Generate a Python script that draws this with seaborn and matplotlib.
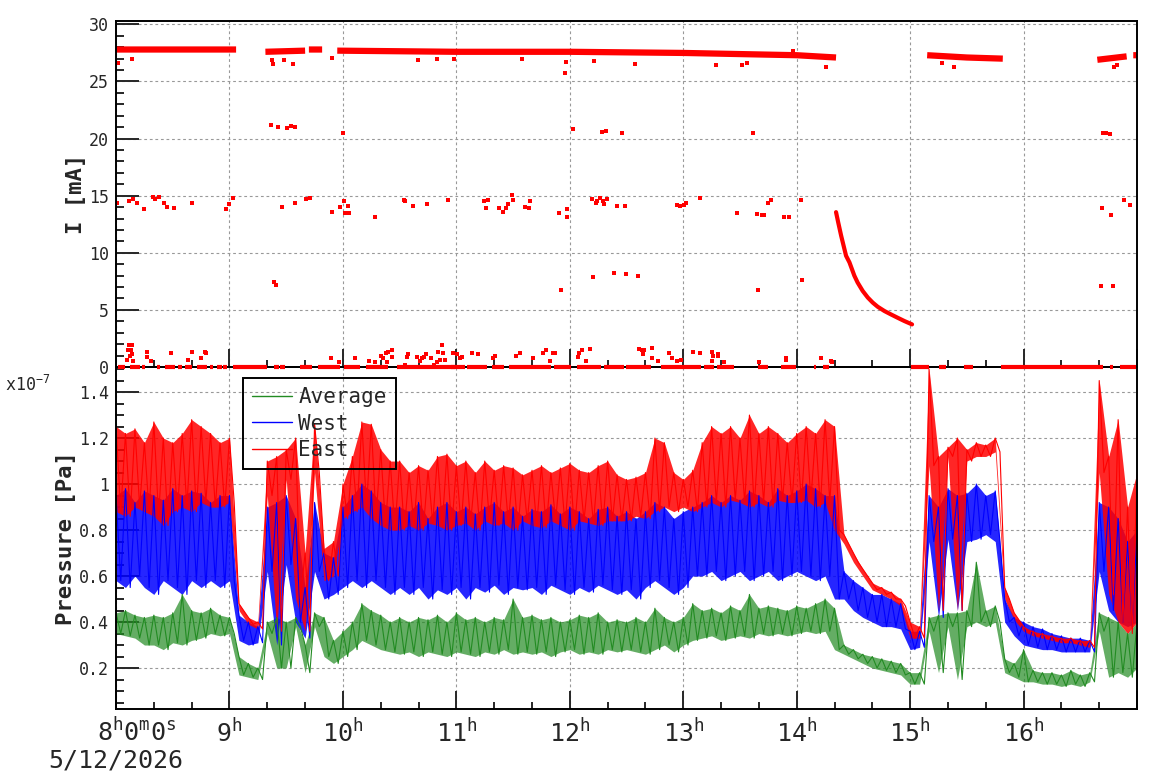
import numpy as np
import pandas as pd
import matplotlib
matplotlib.use("Agg")
import matplotlib.pyplot as plt
import seaborn as sns
from matplotlib.lines import Line2D
from matplotlib.ticker import MultipleLocator, FuncFormatter

# ---------------- pressure (units of 1e-7 Pa), sampled every 5 min after 8:00
# hi = upper envelope at t, lo = lower envelope at t + 2.5 min
t_grid = np.arange(0, 545, 5)

east_hi = [1.25, 1.22, 1.24, 1.18, 1.27, 1.20, 1.18, 1.22, 1.28, 1.25, 1.22, 1.18, 1.20,
           0.48, 0.42, 0.40,
           1.10, 1.12, 1.15, 1.20, 0.70, 1.26, 0.72, 0.75, 1.00, 1.12, 1.27, 1.26, 1.15, 1.10,
           1.10, 1.05, 1.08, 1.06, 1.12, 1.13, 1.08, 1.10, 1.05, 1.10, 1.06, 1.08, 1.07, 1.04,
           1.06, 1.08, 1.05, 1.07, 1.09, 1.06, 1.05, 1.08, 1.10, 1.04, 1.02, 1.03, 1.05,
           1.20, 1.18, 1.05, 1.02, 1.06, 1.18, 1.25, 1.22, 1.25, 1.20, 1.30, 1.22, 1.25, 1.22,
           1.18, 1.22, 1.25, 1.22, 1.28, 1.25,
           0.78, 0.70, 0.63, 0.57, 0.55, 0.53, 0.50, 0.40, 0.38,
           1.50, 1.12, 1.16, 1.20, 1.15, 1.18, 1.17, 1.20,
           0.55, 0.44, 0.38, 0.36, 0.35, 0.34, 0.33, 0.33, 0.32, 0.32,
           1.45, 1.12, 1.28, 0.90, 1.05]
east_lo = [0.88, 0.86, 0.90, 0.88, 0.86, 0.82, 0.88, 0.90, 0.88, 0.92, 0.90, 0.90, 0.92,
           0.45, 0.39, 0.37,
           0.95, 0.36, 1.02, 0.50, 0.36, 1.05, 0.58, 0.60, 0.85, 0.88, 0.90, 0.85, 0.82, 0.80,
           0.80, 0.82, 0.80, 0.83, 0.82, 0.80, 0.82, 0.83, 0.80, 0.84, 0.82, 0.83, 0.80, 0.84,
           0.82, 0.81, 0.84, 0.82, 0.80, 0.84, 0.83, 0.82, 0.84, 0.84, 0.84, 0.86, 0.85,
           0.88, 0.90, 0.88, 0.90, 0.88, 0.90, 0.92, 0.90, 0.93, 0.92, 0.90, 0.92, 0.90, 0.93,
           0.92, 0.92, 0.93, 0.90, 0.92, 0.80,
           0.74, 0.66, 0.60, 0.54, 0.52, 0.50, 0.47, 0.33, 0.33,
           1.08, 0.45, 1.12, 0.45, 1.10, 1.12, 1.12, 1.14,
           0.50, 0.41, 0.36, 0.34, 0.33, 0.32, 0.31, 0.31, 0.30, 0.29,
           1.05, 0.52, 0.40, 0.35, 0.40]

west_hi = [0.95, 0.98, 0.92, 0.97, 0.95, 0.93, 0.98, 0.95, 0.97, 0.96, 0.92, 0.95, 0.95,
           0.43, 0.40, 0.38,
           0.90, 0.92, 0.95, 0.85, 0.55, 0.92, 0.70, 0.68, 0.90, 0.95, 1.00, 0.97, 0.92, 0.90,
           0.90, 0.88, 0.92, 0.85, 0.90, 0.92, 0.88, 0.90, 0.87, 0.90, 0.92, 0.88, 0.90, 0.86,
           0.89, 0.88, 0.91, 0.87, 0.90, 0.88, 0.85, 0.89, 0.90, 0.86, 0.88, 0.85, 0.88,
           0.92, 0.90, 0.85, 0.88, 0.90, 0.92, 0.95, 0.92, 0.95, 0.93, 0.97, 0.95, 0.92, 0.98,
           0.95, 0.97, 1.00, 0.98, 0.95, 0.95,
           0.62, 0.58, 0.55, 0.52, 0.52, 0.50, 0.48, 0.36, 0.36,
           0.95, 0.90, 0.98, 0.95, 0.96, 1.00, 0.95, 0.97,
           0.50, 0.42, 0.40, 0.38, 0.37, 0.35, 0.34, 0.33, 0.33, 0.32,
           0.92, 0.90, 0.85, 0.75, 0.80]
west_lo = [0.58, 0.55, 0.60, 0.55, 0.52, 0.58, 0.55, 0.52, 0.58, 0.55, 0.58, 0.55, 0.58,
           0.32, 0.30, 0.31,
           0.62, 0.30, 0.65, 0.40, 0.33, 0.62, 0.50, 0.52, 0.55, 0.58, 0.55, 0.58, 0.55, 0.52,
           0.55, 0.52, 0.55, 0.50, 0.54, 0.52, 0.55, 0.50, 0.55, 0.53, 0.56, 0.52, 0.55, 0.54,
           0.55, 0.52, 0.56, 0.54, 0.52, 0.55, 0.53, 0.56, 0.54, 0.52, 0.54, 0.50, 0.55,
           0.58, 0.55, 0.52, 0.55, 0.60, 0.60, 0.62, 0.58, 0.60, 0.62, 0.58, 0.60, 0.62, 0.58,
           0.60, 0.62, 0.60, 0.58, 0.60, 0.50,
           0.50, 0.45, 0.42, 0.40, 0.38, 0.38, 0.37, 0.28, 0.29,
           0.75, 0.42, 0.76, 0.45, 0.75, 0.76, 0.78, 0.75,
           0.40, 0.34, 0.30, 0.29, 0.28, 0.28, 0.27, 0.27, 0.27, 0.27,
           0.62, 0.45, 0.40, 0.38, 0.40]

avg_hi = [0.44, 0.45, 0.43, 0.42, 0.43, 0.42, 0.44, 0.52, 0.45, 0.44, 0.46, 0.43, 0.42,
          0.25, 0.22, 0.20,
          0.40, 0.42, 0.40, 0.42, 0.30, 0.44, 0.42, 0.32, 0.36, 0.40, 0.48, 0.45, 0.43, 0.40,
          0.42, 0.40, 0.42, 0.41, 0.43, 0.40, 0.44, 0.41, 0.42, 0.40, 0.42, 0.41, 0.50, 0.42,
          0.43, 0.41, 0.42, 0.40, 0.41, 0.43, 0.42, 0.44, 0.40, 0.41, 0.40, 0.42, 0.40,
          0.46, 0.42, 0.40, 0.42, 0.48, 0.45, 0.46, 0.44, 0.47, 0.45, 0.52, 0.46, 0.47, 0.46,
          0.45, 0.47, 0.46, 0.48, 0.50, 0.46,
          0.30, 0.28, 0.26, 0.25, 0.24, 0.23, 0.22, 0.18, 0.18,
          0.42, 0.43, 0.44, 0.44, 0.45, 0.66, 0.45, 0.47,
          0.24, 0.22, 0.28, 0.19, 0.18, 0.18, 0.17, 0.19, 0.17, 0.18,
          0.44, 0.42, 0.40, 0.35, 0.40]
avg_lo = [0.35, 0.34, 0.33, 0.30, 0.30, 0.28, 0.31, 0.30, 0.32, 0.33, 0.35, 0.34, 0.35,
          0.17, 0.16, 0.15,
          0.35, 0.20, 0.20, 0.38, 0.18, 0.38, 0.25, 0.22, 0.25, 0.28, 0.32, 0.30, 0.28, 0.27,
          0.26, 0.27, 0.25, 0.27, 0.26, 0.25, 0.27, 0.26, 0.25, 0.27, 0.26, 0.28, 0.26, 0.27,
          0.26, 0.27, 0.25, 0.27, 0.28, 0.26, 0.27, 0.26, 0.28, 0.27, 0.28, 0.27, 0.26,
          0.28, 0.30, 0.27, 0.30, 0.32, 0.33, 0.34, 0.32, 0.33, 0.34, 0.33, 0.35, 0.34, 0.35,
          0.34, 0.35, 0.36, 0.35, 0.36, 0.28,
          0.26, 0.24, 0.22, 0.20, 0.19, 0.18, 0.17, 0.13, 0.13,
          0.36, 0.18, 0.38, 0.15, 0.38, 0.40, 0.38, 0.40,
          0.18, 0.16, 0.14, 0.14, 0.13, 0.13, 0.12, 0.13, 0.12, 0.14,
          0.36, 0.16, 0.18, 0.16, 0.20]

# ---------------- beam current I [mA]
# main band (minutes after 8:00), nan = no beam
band_t = [0, 30, 63.5, np.nan, 79, 100, np.nan, 102, 109, np.nan, 117, 180, 240, 300, 360, 380.8,
          np.nan, 429, 450, 469, np.nan, 519, 534.5, np.nan, 538, 541]
band_I = [27.8, 27.8, 27.8, np.nan, 27.6, 27.7, np.nan, 27.8, 27.8, np.nan, 27.7, 27.6, 27.6, 27.5,
          27.3, 27.1, np.nan, 27.3, 27.1, 27.0, np.nan, 26.9, 27.2, np.nan, 27.3, 27.3]

# decaying current after 14:20
decay_t = [380.8, 381.9, 383.5, 386.1, 387.9, 390.5, 392.2, 394.9, 397.6, 400.2, 402.8, 406.4,
           409.9, 413.4, 417.0, 421.0]
decay_I = [13.56, 12.7, 11.5, 9.74, 9.16, 7.99, 7.4, 6.66, 6.08, 5.64, 5.28, 4.9,
           4.6, 4.31, 4.02, 3.73]

# stretches sitting on 0 mA
zero_start = [1.2, 7.4, 13.6, 21.5, 26, 33, 36.5, 42.7, 49.8, 53.3, 56.8, 62, 83.3, 86.8, 97.4,
              107, 120.4, 132, 148.6, 176.9, 185.7, 198.9, 207.8, 231.6, 244, 258.1, 269.5, 288.1,
              311, 318.1, 339.3, 351.6, 369.3, 373.7, 420.5, 435.5, 448.7, 468.2, 525.5, 530.8]
zero_end = [4.8, 12.7, 15.4, 23.3, 31.2, 34.8, 40, 48, 51.5, 56, 58.6, 79.8, 86, 89.5, 103.6,
            118.6, 129.2, 144, 179.5, 184.8, 196.3, 205.1, 229.8, 240.4, 256.3, 268.7, 282.8, 309.3,
            316.3, 326.9, 344.6, 359.6, 370.2, 377.2, 430.2, 439, 453.1, 522, 527.3, 539.6]

# isolated readings
pt_t = [0.7, 7.1, 9.2, 10.9, 15.0, 19.8, 20.8, 22.9, 25.6, 26.7, 30.4, 40.4, 57.9, 59.5, 62.1,
        87.6, 94.4, 100.3, 102.4, 114.0, 118.3, 120.4, 122.5, 121.0, 123.0, 136.8, 152.2, 152.7,
        157.0, 164.3, 175.5,
        81.7, 85.4, 90.2, 92.3, 94.4, 119.9, 83.8, 84.4,
        1.1, 8.6, 82.3, 82.8, 89.1, 93.4, 114.0, 159.6, 169.6,
        6.0, 7.6, 8.6, 6.5, 8.1, 7.1, 8.6, 9.2, 16.6, 16.6, 18.7, 29.3, 37.8, 40.4, 45.2, 47.3,
        47.8, 113.5, 117.7, 126.2, 133.6, 136.8, 140.0, 141.0, 142.6, 143.7, 145.8, 145.8, 143.2,
        152.7, 153.7, 154.3, 159.0, 160.6, 161.7, 162.8, 163.8, 166.5, 168.0, 169.6, 170.2, 171.2,
        172.3, 172.8, 173.9, 178.1,
        179.0, 237.4, 237.9, 214.7, 252.8, 274.5, 317.4, 331.0, 333.8,
        241.7, 256.9, 259.1, 267.6, 337.0,
        194.5, 196.6, 195.6, 202.5, 204.6, 206.2, 207.2, 209.4, 210.0, 216.3, 218.4, 218.9, 234.2,
        238.5, 238.5, 251.7, 253.8, 254.4, 256.0, 257.5, 258.1, 259.6, 264.9, 269.2, 296.7, 298.3,
        300.4, 301.5, 308.9, 328.5, 339.1, 341.8, 342.8, 344.9, 346.5, 353.4, 355.9,
        252.3, 263.4, 269.7, 276.1, 235.3, 339.6,
        178.1, 180.2, 181.8, 182.9, 188.2, 191.3, 199.3, 200.3, 211.5, 213.6, 220.5, 225.8, 227.4,
        229.5, 231.1, 232.1, 244.3, 244.9, 246.4, 248.6, 250.7, 276.6, 278.2, 279.3, 278.7, 283.5,
        283.5, 286.7, 292.5, 294.1, 296.7, 298.8, 305.2, 308.9, 315.3, 315.8, 318.4, 318.4, 315.3,
        321.3, 339.8, 354.5, 354.5,
        375.6, 443.4, 436.8, 527.6, 529.2, 358.2,
        362.4, 521.3, 526.1, 533.0, 536.1, 521.8, 523.4, 525.5, 363.0, 520.8, 527.1,
        373.0, 378.3, 378.8]
pt_I = [14.4, 14.5, 14.7, 14.4, 13.85, 14.9, 14.7, 14.9, 14.4, 14.0, 13.9, 14.4, 13.8, 14.3, 14.8,
        14.0, 14.4, 14.7, 14.8, 13.6, 14.0, 14.5, 14.1, 13.5, 13.5, 13.1, 14.6, 14.5,
        14.1, 14.3, 14.6,
        21.2, 21.0, 20.9, 21.1, 21.0, 20.5, 7.4, 7.2,
        26.6, 27.0, 26.9, 26.5, 26.9, 26.5, 27.1, 26.9, 27.0,
        0.65, 1.0, 1.1, 1.5, 1.5, 1.9, 1.9, 0.5, 1.35, 0.9, 0.55, 1.2, 0.65, 1.35, 0.8, 1.35,
        1.2, 0.75, 0.4, 0.75, 0.5, 0.4, 1.0, 0.8, 1.25, 1.35, 1.45, 0.9, 0.4,
        0.2, 0.9, 1.1, 0.9, 0.55, 0.8, 0.9, 1.1, 0.75, 0.2, 0.4, 1.35, 0.65,
        1.9, 1.2, 0.65, 1.2,
        27.0, 25.7, 26.7, 27.0, 26.8, 26.5, 26.4, 26.4, 26.6,
        20.8, 20.6, 20.7, 20.5, 20.5,
        14.5, 14.6, 13.9, 13.9, 13.6, 13.9, 14.3, 15.1, 14.6, 14.0, 13.9, 14.5, 13.5,
        13.8, 13.1, 14.7, 14.4, 14.5, 14.8, 14.5, 14.3, 14.7, 14.1, 14.1, 14.2, 14.1,
        14.2, 14.4, 14.8, 13.5, 13.4, 13.3, 13.3, 14.4, 14.6, 13.1, 13.1,
        7.9, 8.2, 8.1, 8.0, 6.7, 6.7,
        1.2, 1.1, 0.75, 0.9, 1.2, 1.1, 0.8, 1.0, 1.0, 1.2, 0.75, 1.25, 1.45,
        0.55, 1.2, 1.25, 0.9, 1.25, 1.45, 0.55, 1.6, 1.6, 1.5, 1.45, 1.1, 1.7,
        0.8, 0.55, 1.25, 0.8, 0.55, 0.65, 1.35, 1.25, 1.35, 1.0, 1.1, 1.0, 0.55,
        0.45, 0.45, 0.8, 0.65,
        26.3, 26.3, 26.6, 26.3, 26.4, 27.7,
        14.6, 13.9, 13.3, 14.6, 14.2, 20.5, 20.5, 20.4, 7.6, 7.1, 7.1,
        0.8, 0.55, 0.45]

series = ["Average", "West", "East"]
colors = {"Average": "#228b22", "West": "#0000ff", "East": "#ff0000"}
fill_alpha = {"Average": 0.7, "West": 0.85, "East": 0.85}
envelopes = {"Average": (avg_hi, avg_lo), "West": (west_hi, west_lo), "East": (east_hi, east_lo)}


def hours(minutes):
    return 8 + np.asarray(minutes, dtype=float) / 60.0


# zig-zag between the read envelopes
frames = []
for name in series:
    hi, lo = envelopes[name]
    tt = np.empty(2 * len(t_grid))
    pp = np.empty(2 * len(t_grid))
    tt[0::2] = t_grid
    tt[1::2] = t_grid + 2.5
    pp[0::2] = hi
    pp[1::2] = lo
    frames.append(pd.DataFrame({"hour": hours(tt), "p": pp, "series": name}))
press = pd.concat(frames, ignore_index=True)

sns.set_style("ticks")
plt.rcParams["font.family"] = ["DejaVu Sans Mono", "DejaVu Sans"]
plt.rcParams["mathtext.fontset"] = "custom"
plt.rcParams["mathtext.rm"] = "DejaVu Sans Mono"
plt.rcParams["mathtext.it"] = "DejaVu Sans Mono"
plt.rcParams["mathtext.bf"] = "DejaVu Sans Mono:bold"

fig = plt.figure(figsize=(11.58, 7.82), dpi=100, facecolor="white")
ax1 = fig.add_axes([0.1002, 0.5307, 0.8817, 0.4425])
ax2 = fig.add_axes([0.1002, 0.0934, 0.8817, 0.4373])
ax1.set_zorder(2)
ax2.set_zorder(1)
ax1.set_facecolor("none")
ax2.set_facecolor("none")

# ---------------- top panel
ax1.plot(hours(band_t), band_I, color="red", lw=4.5, solid_capstyle="butt", zorder=2)
sns.lineplot(x=hours(decay_t), y=decay_I, color="red", lw=3.0, ax=ax1, zorder=2)
sns.scatterplot(x=hours(pt_t), y=pt_I, color="red", marker="s", s=7, linewidth=0, ax=ax1, zorder=2)
ax1.hlines(np.zeros(len(zero_start)), hours(zero_start), hours(zero_end), color="red", lw=3,
           clip_on=False, zorder=4)

ax1.set_ylim(0, 30.3)
ax1.yaxis.set_major_locator(MultipleLocator(5))
ax1.yaxis.set_minor_locator(MultipleLocator(1))
ax1.yaxis.set_major_formatter(FuncFormatter(lambda v, _: "%g" % v))
ax1.set_ylabel("I [mA]", fontsize=16, fontweight="bold")
ax1.yaxis.set_label_coords(-0.029, 0.5)

# ---------------- bottom panel
for name in series:
    hi, lo = envelopes[name]
    ax2.fill_between(hours(t_grid), lo, hi, color=colors[name], alpha=fill_alpha[name], lw=0,
                     zorder=2)
sns.lineplot(data=press, x="hour", y="p", hue="series", hue_order=series, palette=colors,
             estimator=None, lw=0.8, legend=False, ax=ax2, zorder=2)

ax2.set_ylim(0.022, 1.509)
ax2.yaxis.set_major_locator(MultipleLocator(0.2))
ax2.yaxis.set_minor_locator(MultipleLocator(0.05))
ax2.yaxis.set_major_formatter(FuncFormatter(lambda v, _: "%g" % round(v, 2)))
ax2.set_ylabel("Pressure [Pa]", fontsize=16, fontweight="bold")
ax2.yaxis.set_label_coords(-0.039, 0.5)
ax2.set_xlabel("")

handles = [Line2D([], [], color=colors[n], lw=1) for n in series]
leg = ax2.legend(handles, series, loc="upper left", bbox_to_anchor=(0.1244, 0.968),
                 fontsize=15, handlelength=1.9, handletextpad=0.3, borderpad=0.45,
                 labelspacing=0.3, borderaxespad=0, fancybox=False, edgecolor="black",
                 facecolor="none", framealpha=1)
leg.get_frame().set_linewidth(1.4)

fig.text(0.004, 1 - 391 / 782, r"$\mathrm{x10^{-7}}$", fontsize=12, va="baseline")

# ---------------- common axis styling
for ax in (ax1, ax2):
    ax.set_xlim(8, 17)
    ax.xaxis.set_major_locator(MultipleLocator(1))
    ax.xaxis.set_minor_locator(MultipleLocator(1 / 3))
    ax.grid(True, which="major", ls=(0, (2.5, 2.5)), color="#999999", lw=0.8)
    ax.set_axisbelow(True)
    ax.tick_params(axis="x", which="major", direction="in", length=13, width=1.4)
    ax.tick_params(axis="x", which="minor", direction="in", length=5, width=1.4)
    ax.tick_params(axis="y", which="major", direction="in", length=16.5, width=1.4,
                   labelsize=12, pad=5)
    ax.tick_params(axis="y", which="minor", direction="in", length=6, width=1.4)
    for sp in ax.spines.values():
        sp.set_linewidth(1.4)
        sp.set_color("black")

ax1.tick_params(axis="x", labelbottom=False)
ax2.xaxis.set_major_formatter(
    FuncFormatter(lambda v, _: "" if round(v) in (8, 17) else r"$\mathrm{%d^{h}}$" % round(v)))
ax2.tick_params(axis="x", which="major", labelsize=18, pad=7)

fig.text(97 / 1158, 1 - 741 / 782, r"$\mathrm{8^{h}0^{m}0^{s}}$", fontsize=18, va="baseline")
fig.text(116 / 1158, 1 - 768 / 782, "5/12/2026", fontsize=18, ha="center", va="baseline")

fig.savefig("out.png", dpi=100)
